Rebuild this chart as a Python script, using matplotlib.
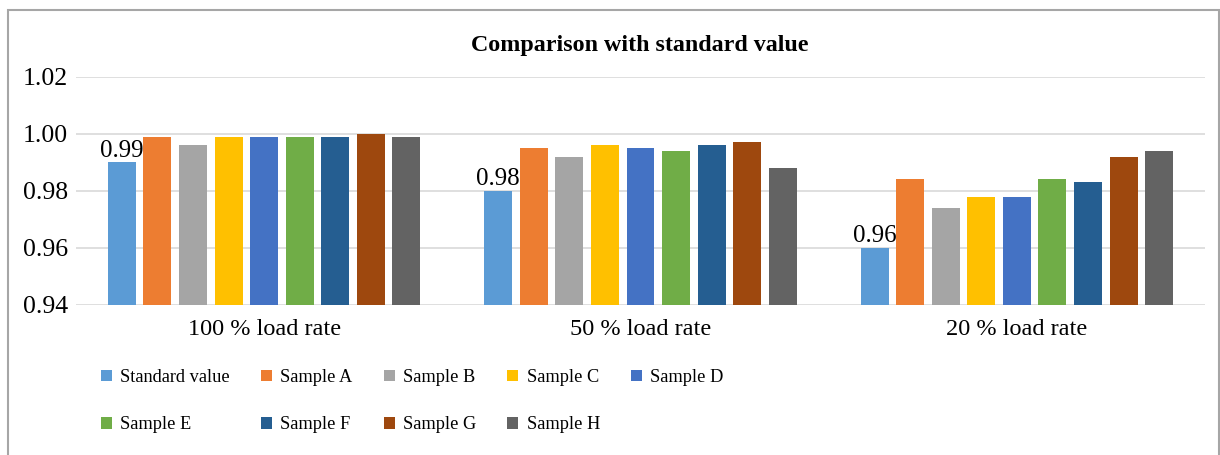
import numpy as np
import matplotlib
matplotlib.use('agg')
from matplotlib import pyplot as plt
from matplotlib.patches import Rectangle

plt.rcParams['font.family'] = ['Liberation Serif', 'DejaVu Serif']

groups = ['100 % load rate', '50 % load rate', '20 % load rate']
series = ['Standard value', 'Sample A', 'Sample B', 'Sample C', 'Sample D',
          'Sample E', 'Sample F', 'Sample G', 'Sample H']
colors = ['#5b9bd5', '#ed7d31', '#a5a5a5', '#ffc000', '#4472c4',
          '#70ad47', '#255e91', '#9e480e', '#636363']

standard = [0.99, 0.98, 0.96]
sample_a = [0.999, 0.995, 0.984]
sample_b = [0.996, 0.992, 0.974]
sample_c = [0.999, 0.996, 0.978]
sample_d = [0.999, 0.995, 0.978]
sample_e = [0.999, 0.994, 0.984]
sample_f = [0.999, 0.996, 0.983]
sample_g = [1.000, 0.997, 0.992]
sample_h = [0.999, 0.988, 0.994]
values = [standard, sample_a, sample_b, sample_c, sample_d,
          sample_e, sample_f, sample_g, sample_h]

fig = plt.figure(figsize=(12.2, 4.55), dpi=100)
ax = fig.add_axes([76 / 1220, 1 - 305 / 455, (1205 - 76) / 1220, (305 - 76.7) / 455])

x = np.arange(len(groups))
pitch = 0.0945
width = 0.0744
handles = []
for i, (name, vals, c) in enumerate(zip(series, values, colors)):
    pos = x + (i - 4) * pitch
    b = ax.bar(pos, np.array(vals) - 0.94, width, bottom=0.94, color=c,
               label=name, zorder=3)
    handles.append(b)

# data labels on the standard series only
for xi, v in zip(x, standard):
    ax.text(xi - 4 * pitch, v + 0.0002, f'{v:.2f}', ha='center', va='bottom',
            fontsize=18, zorder=4)

yt = np.arange(0.94, 1.021, 0.02)
ax.set_ylim(0.94, 1.02)
ax.set_yticks(yt)
ax.set_yticklabels([f'{t:.2f}' for t in yt])
ax.set_xlim(-0.5, 2.5)
ax.set_xticks(x)
ax.set_xticklabels(groups)
ax.tick_params(axis='both', length=0)
ax.tick_params(axis='y', pad=6, labelsize=18.5)
ax.tick_params(axis='x', pad=10, labelsize=17.5)
ax.grid(axis='y', color='#d9d9d9', lw=1.2, zorder=0)
for s in ax.spines.values():
    s.set_visible(False)

fig.text(640 / 1220, 1 - 45 / 455, 'Comparison with standard value',
         ha='center', va='center', fontsize=17.3, fontweight='bold')

order = [0, 5, 1, 6, 2, 7, 3, 8, 4]
fig.legend([handles[i] for i in order], [series[i] for i in order],
           loc='upper left', bbox_to_anchor=(101 / 1220, 1 - 369 / 455),
           ncol=5, frameon=False, fontsize=13.2, borderpad=0, borderaxespad=0,
           handlelength=0.6, handleheight=0.6, handletextpad=0.45,
           columnspacing=1.7, labelspacing=1.65)

# outer chart frame
fig.patches.append(Rectangle((7.5 / 1220, -0.05), (1219 - 7.5) / 1220, 1.05 - 10 / 455,
                             transform=fig.transFigure, fill=False,
                             edgecolor='#a6a6a6', lw=1.5))

fig.savefig('out.png', dpi=100)
